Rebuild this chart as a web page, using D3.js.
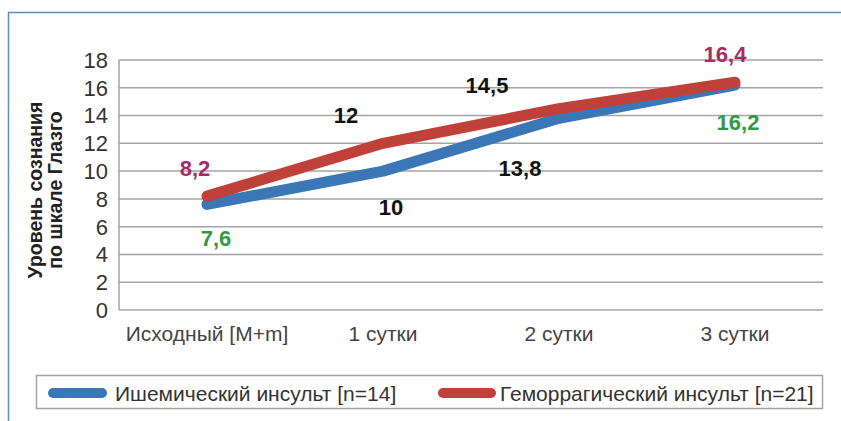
<!DOCTYPE html>
<html>
<head>
<meta charset="utf-8">
<script src="https://cdn.jsdelivr.net/npm/d3@7"></script>
<style>
  body { margin: 0; background: #fff; }
  svg { display: block; font-family: "Liberation Sans", Arial, sans-serif; }
</style>
</head>
<body>
<div id="chart"></div>
<script>
// data
var categories = ["Исходный [M+m]", "1 сутки", "2 сутки", "3 сутки"];
var ischemic = [7.6, 10, 13.8, 16.2];
var hemorrhagic = [8.2, 12, 14.5, 16.4];
var ischemicLabels = ["7,6", "10", "13,8", "16,2"];
var hemorrhagicLabels = ["8,2", "12", "14,5", "16,4"];
var seriesNames = ["Ишемический инсульт [n=14]", "Геморрагический инсульт [n=21]"];
var yTicks = [0, 2, 4, 6, 8, 10, 12, 14, 16, 18];

var width = 841, height = 421,
    plotLeft = 119, plotRight = 823, plotTop = 60, plotBottom = 310;

var svg = d3.select("#chart").append("svg")
    .attr("width", width).attr("height", height);

// outer frame
svg.append("rect")
    .attr("x", 8.5).attr("y", 12.5)
    .attr("width", 900).attr("height", 500)
    .attr("fill", "none").attr("stroke", "#5b8dbb").attr("stroke-width", 1.5);

var x = d3.scaleBand().domain(categories).range([plotLeft, plotRight]);
var y = d3.scaleLinear().domain([0, 18]).range([plotBottom, plotTop]);

// gridlines
svg.append("g").selectAll("line").data(yTicks).enter().append("line")
    .attr("x1", plotLeft).attr("x2", plotRight)
    .attr("y1", function(d) { return y(d); })
    .attr("y2", function(d) { return y(d); })
    .attr("stroke", "#a3a3a3").attr("stroke-width", 1.5);

svg.append("line")
    .attr("x1", plotLeft).attr("x2", plotLeft)
    .attr("y1", y(18)).attr("y2", y(0))
    .attr("stroke", "#a3a3a3").attr("stroke-width", 1.5);

// y tick labels
svg.append("g").selectAll("text").data(yTicks).enter().append("text")
    .attr("x", 108)
    .attr("y", function(d) { return y(d); })
    .attr("dy", "0.36em")
    .attr("text-anchor", "end")
    .attr("font-size", 22)
    .attr("fill", "#333")
    .text(function(d) { return d; });

// category labels
svg.append("g").selectAll("text").data(categories).enter().append("text")
    .attr("x", function(d) { return x(d) + x.bandwidth() / 2; })
    .attr("y", 341)
    .attr("text-anchor", "middle")
    .attr("font-size", 21)
    .attr("fill", "#444")
    .text(function(d) { return d; });

// axis title
var title = svg.append("text")
    .attr("transform", "translate(35,190) rotate(-90)")
    .attr("text-anchor", "middle")
    .attr("font-size", 19.5)
    .attr("font-weight", "bold")
    .attr("fill", "#222");
title.append("tspan").attr("x", 0).attr("dy", "0.35em").text("Уровень сознания");
title.append("tspan").attr("x", 0).attr("dy", 20).text("по шкале Глазго");

var line = d3.line()
    .x(function(d, i) { return x(categories[i]) + x.bandwidth() / 2; })
    .y(function(d) { return y(d); });

var series = [
  { values: ischemic, labels: ischemicLabels, color: "#3b77b6",
    labelColors: ["#2f9a42", "#111", "#111", "#2f9a42"],
    offsets: [[9, 34], [8, 36], [-39, 50], [3, 37]] },
  { values: hemorrhagic, labels: hemorrhagicLabels, color: "#c0403a",
    labelColors: ["#a82a62", "#111", "#111", "#a82a62"],
    offsets: [[-12, -28], [-37, -28], [-72, -24], [-10, -28]] }
];

series.forEach(function(s) {
  svg.append("path")
      .datum(s.values)
      .attr("d", line)
      .attr("fill", "none")
      .attr("stroke", s.color)
      .attr("stroke-width", 11)
      .attr("stroke-linecap", "round")
      .attr("stroke-linejoin", "round");
});

series.forEach(function(s) {
  svg.append("g").selectAll("text").data(s.values).enter().append("text")
      .attr("x", function(d, i) { return x(categories[i]) + x.bandwidth() / 2 + s.offsets[i][0]; })
      .attr("y", function(d, i) { return y(d) + s.offsets[i][1]; })
      .attr("dy", "0.36em")
      .attr("text-anchor", "middle")
      .attr("font-size", 22)
      .attr("font-weight", "bold")
      .attr("fill", function(d, i) { return s.labelColors[i]; })
      .text(function(d, i) { return s.labels[i]; });
});

// legend
svg.append("rect")
    .attr("x", 36.5).attr("y", 375.5)
    .attr("width", 786).attr("height", 33)
    .attr("fill", "#fff").attr("stroke", "#a3a3a3").attr("stroke-width", 1.5);

var legendX = [[53, 102, 115], [443, 491, 500]];
series.forEach(function(s, i) {
  svg.append("line")
      .attr("x1", legendX[i][0]).attr("x2", legendX[i][1])
      .attr("y1", 393).attr("y2", 393)
      .attr("stroke", s.color).attr("stroke-width", 10)
      .attr("stroke-linecap", "round");
  svg.append("text")
      .attr("x", legendX[i][2]).attr("y", 393)
      .attr("dy", "0.36em")
      .attr("font-size", 21)
      .attr("fill", "#333")
      .text(seriesNames[i]);
});
</script>
</body>
</html>
